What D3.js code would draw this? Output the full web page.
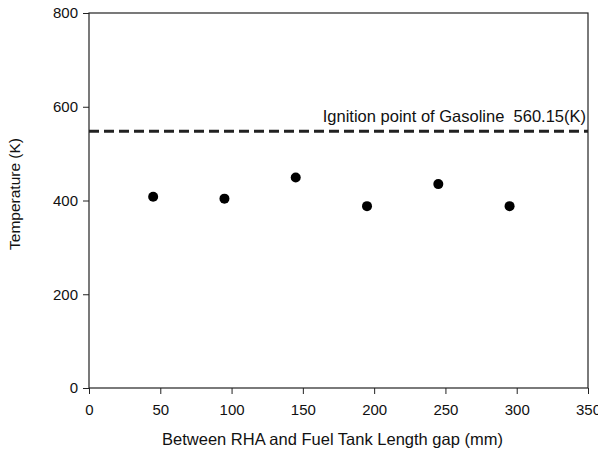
<!DOCTYPE html>
<html>
<head>
<meta charset="utf-8">
<script src="https://cdn.jsdelivr.net/npm/d3@7"></script>
<style>
body { margin: 0; background: #fff; }
svg text { font-family: "Liberation Sans", Arial, sans-serif; fill: #111; }
</style>
</head>
<body>
<div id="chart"></div>
<script>
// data
const gaps = [45, 95, 145, 195, 245, 295]
const temps = [408, 404, 449, 388, 435, 388]
const ignitionLine = 548
const ignitionLabel = "Ignition point of Gasoline  560.15(K)"
const xTicks = [0, 50, 100, 150, 200, 250, 300, 350]
const yTicks = [0, 200, 400, 600, 800]

const config = { top: 13, right: 10, bottom: 64, left: 89 }
const W = 598, H = 452
const width = W - config.left - config.right
const height = H - config.top - config.bottom

const x = d3.scaleLinear().domain([0, 350]).range([0, width])
const y = d3.scaleLinear().domain([0, 800]).range([height, 0])

const svg = d3.select('#chart').append('svg').attr('width', W).attr('height', H)
const g = svg.append('g').attr('transform', `translate(${config.left},${config.top})`)

// frame
g.append('rect').attr('width', width).attr('height', height)
  .attr('fill', 'none').attr('stroke', '#222').attr('stroke-width', 1.2)

const xAxis = g.append('g').attr('transform', `translate(0,${height})`)
  .call(d3.axisBottom(x).tickValues(xTicks).tickSize(6).tickPadding(10).tickFormat(d3.format('d')))
xAxis.select('.domain').remove()
xAxis.selectAll('line').attr('stroke', '#222')
xAxis.selectAll('text').style('font-size', '15px').style('fill', '#111')

const yAxis = g.append('g')
  .call(d3.axisLeft(y).tickValues(yTicks).tickSize(6).tickPadding(5))
yAxis.select('.domain').remove()
yAxis.selectAll('line').attr('stroke', '#222')
yAxis.selectAll('text').style('font-size', '15px').style('fill', '#111')

// ignition reference line
g.append('line')
  .attr('x1', 0).attr('x2', width)
  .attr('y1', y(ignitionLine)).attr('y2', y(ignitionLine))
  .attr('stroke', '#222').attr('stroke-width', 3)
  .attr('stroke-dasharray', '10,5')

g.append('text')
  .attr('x', width - 2).attr('y', y(ignitionLine) - 9)
  .attr('text-anchor', 'end').style('font-size', '16.5px')
  .style('white-space', 'pre')
  .text(ignitionLabel)

g.selectAll('circle')
  .data(gaps)
  .enter()
  .append('circle')
  .attr('cx', d => x(d))
  .attr('cy', (d, i) => y(temps[i]))
  .attr('r', 5)
  .attr('fill', '#000')

// axis titles
svg.append('text')
  .attr('x', config.left + width / 2 - 6).attr('y', 445)
  .attr('text-anchor', 'middle').style('font-size', '16.5px')
  .text('Between RHA and Fuel Tank Length gap (mm)')

svg.append('text')
  .attr('transform', `translate(20,194) rotate(-90)`)
  .attr('text-anchor', 'middle').style('font-size', '15.5px')
  .text('Temperature (K)')
</script>
</body>
</html>
